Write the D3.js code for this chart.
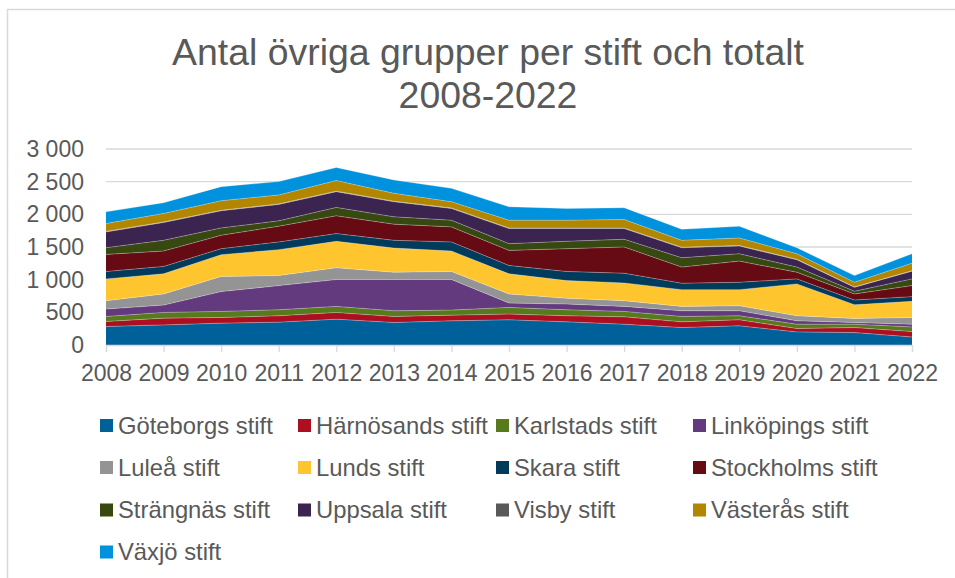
<!DOCTYPE html>
<html>
<head>
<meta charset="utf-8">
<script src="https://cdn.jsdelivr.net/npm/d3@7"></script>
<style>
  html, body { margin: 0; padding: 0; background: #fff; }
  svg { display: block; }
  text { font-family: "Liberation Sans", Arial, sans-serif; fill: #595959; }
</style>
</head>
<body>
<svg id="chart" width="955" height="578"></svg>
<script>
const years = [2008,2009,2010,2011,2012,2013,2014,2015,2016,2017,2018,2019,2020,2021,2022];

const goteborg   = [282,308,334,349,395,344,370,385,354,318,267,293,200,190,123];
const harnosand  = [ 78,103, 87, 98,103, 93, 87, 88, 93,113, 87, 92, 52, 77, 82];
const karlstad   = [ 77, 87, 93, 92, 93, 87, 77,102, 92, 83, 83, 62, 66, 51, 72];
const linkoping  = [113,113,303,370,411,478,468, 67, 88, 77, 87, 77, 52, 26, 41];
const lulea      = [128,170,231,154,179,112,123,139, 87, 87, 67, 77, 77, 62,103];
const lund       = [334,308,334,396,406,370,313,308,272,272,256,246,488,210,247];
const skara      = [113,113, 92,118,118,118,139,128,139,149, 98,113, 77, 72, 72];
const stockholm  = [262,236,205,241,272,247,231,231,349,401,247,324,102, 93,169];
const strangnas  = [102,164,113, 82,129,113,102,103,113,118,143,113, 78, 41,103];
const uppsala    = [242,273,262,252,241,231,180,231,195,164,154,118,113, 61,118];
const visby      = [  8,  8,  8,  8,  8,  8,  8,  8,  8,  8,  8,  8,  6,  5,  6];
const vasteras   = [120,130,146,136,162,120, 95,120,120,131,105,115, 86, 72,117];
const vaxjo      = [180,165,216,205,200,206,205,206,180,180,170,180, 92,103,144];

const seriesNames = ["Göteborgs stift","Härnösands stift","Karlstads stift","Linköpings stift",
  "Luleå stift","Lunds stift","Skara stift","Stockholms stift",
  "Strängnäs stift","Uppsala stift","Visby stift","Västerås stift","Växjö stift"];
const seriesValues = [goteborg,harnosand,karlstad,linkoping,lulea,lund,skara,stockholm,
  strangnas,uppsala,visby,vasteras,vaxjo];
const colors = ["#00619a","#ac1020","#577a1d","#633a7e","#949494","#fec52e","#003b5c",
  "#660b14","#384811","#3c2451","#595959","#b38600","#0092dc"];

const yTicks = [0,500,1000,1500,2000,2500,3000];
const yTickLabels = ["0","500","1 000","1 500","2 000","2 500","3 000"];
const titleLines = ["Antal övriga grupper per stift och totalt","2008-2022"];

const svg = d3.select("#chart");

// table for stack
const table = years.map((yr, i) => {
  const row = { year: yr };
  seriesNames.forEach((n, k) => row[n] = seriesValues[k][i]);
  return row;
});
const stacked = d3.stack().keys(seriesNames)(table);

const x = d3.scalePoint().domain(years).range([106, 912]);
const y = d3.scaleLinear().domain([0, 3000]).range([345, 149]);

// chart border
svg.append("line").attr("x1", 7).attr("x2", 955).attr("y1", 9.5).attr("y2", 9.5)
  .attr("stroke", "#d9d9d9").attr("stroke-width", 1.5);
svg.append("line").attr("x1", 7.5).attr("x2", 7.5).attr("y1", 9).attr("y2", 578)
  .attr("stroke", "#d9d9d9").attr("stroke-width", 1.5);

// title
svg.append("g").selectAll("text").data(titleLines).join("text")
  .attr("x", 488).attr("y", (d, i) => 65 + i * 43)
  .attr("text-anchor", "middle").style("font-size", "37.4px").text(d => d);

// gridlines
svg.append("g").selectAll("line").data(yTicks.filter(t => t > 0)).join("line")
  .attr("x1", 106).attr("x2", 912)
  .attr("y1", d => y(d)).attr("y2", d => y(d))
  .attr("stroke", "#d9d9d9").attr("stroke-width", 1.3);

// y labels
svg.append("g").selectAll("text").data(yTicks).join("text")
  .attr("x", 84).attr("y", d => y(d) + 8)
  .attr("text-anchor", "end").style("font-size", "23px")
  .text((d, i) => yTickLabels[i]);

// areas
const area = d3.area().x(d => x(d.data.year)).y0(d => y(d[0])).y1(d => y(d[1]));
const topLine = d3.line().x(d => x(d.data.year)).y(d => y(d[1]));
svg.append("g").selectAll("path").data(stacked).join("path")
  .attr("d", area).attr("fill", (d, i) => colors[i]);
svg.append("g").selectAll("path").data(stacked).join("path")
  .attr("d", topLine).attr("fill", "none")
  .attr("stroke", "#ffffff").attr("stroke-opacity", 0.35).attr("stroke-width", 0.8);

// x axis
const xAxis = svg.append("g").attr("transform", "translate(0,345)")
  .call(d3.axisBottom(x).tickSize(7).tickPadding(13).tickFormat(d3.format("d")));
xAxis.select(".domain").attr("stroke", "#d9d9d9").attr("stroke-width", 1.3);
xAxis.selectAll(".tick line").attr("stroke", "#d9d9d9").attr("stroke-width", 1.3);
xAxis.selectAll(".tick text").style("font-size", "23px")
  .style("font-family", "'Liberation Sans', Arial, sans-serif").attr("fill", "#595959");

// legend
const colX = [100, 298, 496, 693];
const rowY = [425.5, 467.5, 510, 552];
const legend = svg.append("g").selectAll("g").data(seriesNames).join("g")
  .attr("transform", (d, i) => `translate(${colX[i % 4]},${rowY[Math.floor(i / 4)]})`);
legend.append("rect").attr("x", 0).attr("y", -6.5).attr("width", 13).attr("height", 13)
  .attr("fill", (d, i) => colors[i]);
legend.append("text").attr("x", 18).attr("y", 8.4).style("font-size", "23.8px").text(d => d);
</script>
</body>
</html>
